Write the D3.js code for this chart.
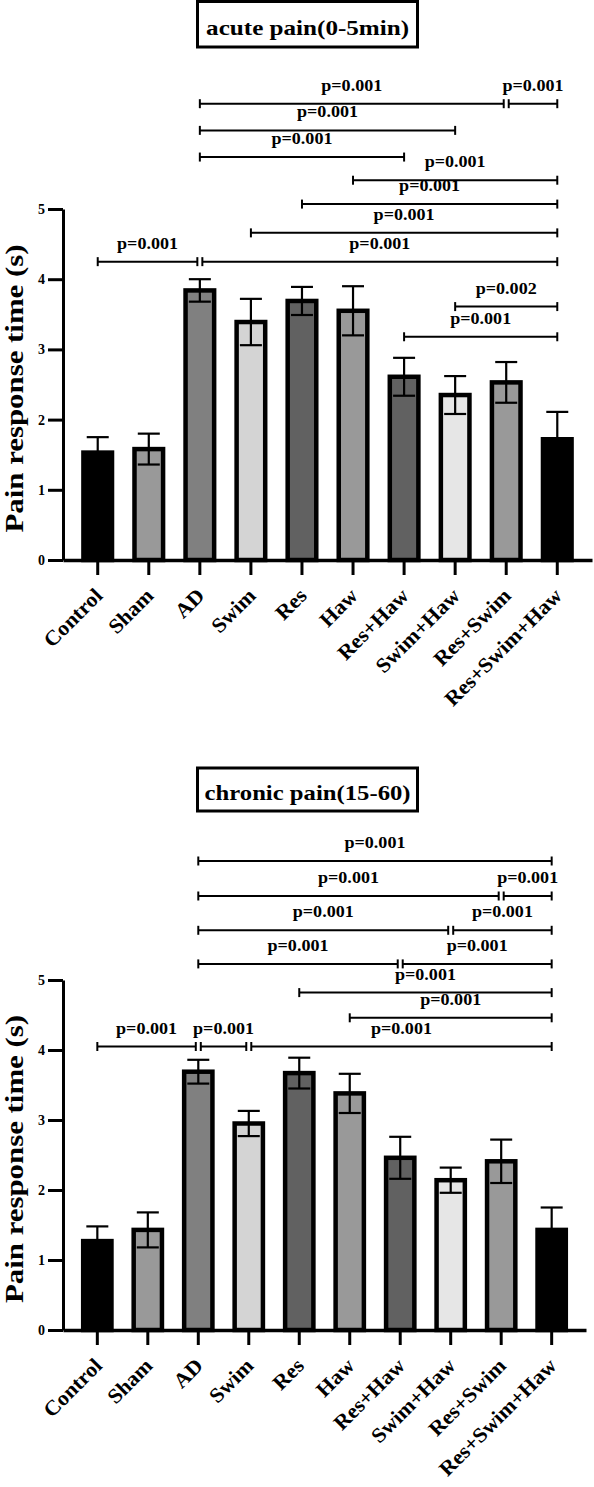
<!DOCTYPE html>
<html>
<head>
<meta charset="utf-8">
<script src="https://cdn.jsdelivr.net/npm/d3@7"></script>
<style>
  body { margin: 0; background: #fff; }
  text { font-family: "Liberation Serif", "Times New Roman", serif; font-weight: bold; fill: #000; }
</style>
</head>
<body>
<div id="chart"></div>
<script>
// groups and bar fills
const groups = ["Control", "Sham", "AD", "Swim", "Res", "Haw", "Res+Haw", "Swim+Haw", "Res+Swim", "Res+Swim+Haw"];
const fills = ["#000000", "#999999", "#808080", "#d4d4d4", "#616161", "#999999", "#616161", "#e6e6e6", "#999999", "#000000"];
const yTicks = [0, 1, 2, 3, 4, 5];

// acute pain (0-5min): mean and SD
const acuteMean = [1.53, 1.58, 3.84, 3.39, 3.69, 3.55, 2.61, 2.35, 2.53, 1.72];
const acuteErr = [0.22, 0.22, 0.16, 0.33, 0.20, 0.35, 0.27, 0.27, 0.29, 0.39];
// brackets: [from group, to group, level (s), label]
const acuteBrackets = [
  [2, 8, 6.50, "p=0.001"], [8, 9, 6.50, "p=0.001"],
  [2, 7, 6.12, "p=0.001"],
  [2, 6, 5.74, "p=0.001"],
  [5, 9, 5.41, "p=0.001"],
  [4, 9, 5.07, "p=0.001"],
  [3, 9, 4.66, "p=0.001"],
  [0, 2, 4.25, "p=0.001"], [2, 9, 4.25, "p=0.001"],
  [7, 9, 3.61, "p=0.002"],
  [6, 9, 3.18, "p=0.001"]
];

// chronic pain (15-60)
const chronicMean = [1.27, 1.43, 3.69, 2.95, 3.67, 3.38, 2.46, 2.14, 2.41, 1.43];
const chronicErr = [0.21, 0.25, 0.17, 0.18, 0.22, 0.28, 0.30, 0.18, 0.31, 0.32];
const chronicBrackets = [
  [2, 9, 6.70, "p=0.001"],
  [2, 8, 6.20, "p=0.001"], [8, 9, 6.20, "p=0.001"],
  [2, 7, 5.71, "p=0.001"], [7, 9, 5.71, "p=0.001"],
  [2, 6, 5.23, "p=0.001"], [6, 9, 5.23, "p=0.001"],
  [4, 9, 4.82, "p=0.001"],
  [5, 9, 4.46, "p=0.001"],
  [0, 2, 4.05, "p=0.001"], [2, 3, 4.05, "p=0.001"], [3, 9, 4.05, "p=0.001"]
];

const W = 594, H = 1487;

const svg = d3.select("#chart").append("svg")
    .attr("width", W).attr("height", H);

// the source font is wider than Times, so stretch texts along their baseline
function fitTo(sel, len) {
  sel.attr("textLength", len).attr("lengthAdjust", "spacingAndGlyphs");
}
function stretch(sel, k) {
  sel.each(function () {
    fitTo(d3.select(this), this.getComputedTextLength() * k);
  });
}

function drawPanel(cfg) {
  const g = svg.append("g");
  const x = d3.scaleBand().domain(groups)
      .range([63, cfg.xEnd]).paddingInner(0.44).paddingOuter(0.4);
  const y = d3.scaleLinear().domain([0, 5]).range([cfg.y0, cfg.y5]);
  const cx = i => x(groups[i]) + x.bandwidth() / 2;

  // title box
  const t = g.append("text")
      .attr("x", 307.6).attr("y", cfg.titleY)
      .attr("text-anchor", "middle")
      .style("font-size", "22px")
      .text(cfg.title);
  fitTo(t, cfg.titleW);
  g.append("rect")
      .attr("x", 197.5).attr("y", cfg.boxY)
      .attr("width", 220).attr("height", cfg.boxH)
      .attr("fill", "none").attr("stroke", "#000").attr("stroke-width", 3);

  // bars
  g.append("g").selectAll("rect")
      .data(cfg.means)
      .join("rect")
      .attr("x", (d, i) => x(groups[i]))
      .attr("width", x.bandwidth())
      .attr("y", d => y(d))
      .attr("height", d => y(0) - y(d))
      .attr("fill", (d, i) => fills[i])
      .attr("stroke", "#000")
      .attr("stroke-width", 4.5);

  // error bars
  const eb = g.append("g").attr("stroke", "#000").attr("stroke-width", 2.2);
  cfg.means.forEach((m, i) => {
    const e = cfg.errs[i];
    eb.append("line").attr("x1", cx(i)).attr("x2", cx(i)).attr("y1", y(m + e)).attr("y2", y(m - e));
    eb.append("line").attr("x1", cx(i) - 11).attr("x2", cx(i) + 11).attr("y1", y(m + e)).attr("y2", y(m + e));
    eb.append("line").attr("x1", cx(i) - 11).attr("x2", cx(i) + 11).attr("y1", y(m - e)).attr("y2", y(m - e));
  });

  // y axis
  const ya = g.append("g")
      .attr("transform", "translate(63,0)")
      .call(d3.axisLeft(y).tickValues(yTicks).tickSize(15).tickSizeOuter(0).tickPadding(3).tickFormat(d3.format("d")));
  ya.select(".domain").attr("stroke-width", 3);
  ya.selectAll(".tick line").attr("stroke-width", 3);
  ya.selectAll(".tick text").style("font-size", "14px").attr("font-family", null);

  // x axis
  const xa = g.append("g")
      .attr("transform", "translate(0," + cfg.y0 + ")")
      .call(d3.axisBottom(x).tickSize(15).tickSizeOuter(0));
  xa.select(".domain").attr("stroke-width", 3.5);
  xa.selectAll(".tick line").attr("stroke-width", 3);
  const xl = xa.selectAll(".tick text")
      .attr("x", 0).attr("y", 0).attr("dy", null)
      .attr("text-anchor", "end")
      .attr("font-family", null)
      .style("font-size", "21px")
      .attr("transform", "translate(6,37) rotate(-45)");
  // scale group labels so that "Control" is about 73px long
  const k = 73 / xl.filter(d => d === "Control").node().getComputedTextLength();
  stretch(xl, k);

  // y label
  const yl = g.append("text")
      .attr("transform", "translate(23," + (y(2.5) + 4) + ") rotate(-90)")
      .attr("text-anchor", "middle")
      .style("font-size", "26px")
      .text("Pain response time (s)");
  fitTo(yl, 288);

  // significance brackets
  const bg = g.append("g");
  cfg.brackets.forEach(b => {
    const [a, c, lvl, lab] = b;
    const sharedStart = cfg.brackets.some(o => o !== b && o[2] === lvl && o[1] === a);
    const sharedEnd = cfg.brackets.some(o => o !== b && o[2] === lvl && o[0] === c);
    const x1 = cx(a) + (sharedStart ? 2.5 : 0);
    const x2 = cx(c) - (sharedEnd ? 2.5 : 0);
    const yy = y(lvl);
    bg.append("line").attr("x1", x1).attr("x2", x2).attr("y1", yy).attr("y2", yy)
        .attr("stroke", "#000").attr("stroke-width", 2);
    [x1, x2].forEach(xx => {
      bg.append("line").attr("x1", xx).attr("x2", xx).attr("y1", yy - 4.5).attr("y2", yy + 4.5)
          .attr("stroke", "#000").attr("stroke-width", 2);
    });
    const tx = bg.append("text")
        .attr("x", (x1 + x2) / 2).attr("y", yy - 13)
        .attr("text-anchor", "middle")
        .style("font-size", "16px")
        .text(lab);
    fitTo(tx, 61);
  });
}

drawPanel({
  title: "acute pain(0-5min)", titleW: 203, titleY: 35, boxY: 1.5, boxH: 45.5,
  means: acuteMean, errs: acuteErr, brackets: acuteBrackets,
  xEnd: 592, y0: 560, y5: 209
});

drawPanel({
  title: "chronic pain(15-60)", titleW: 206, titleY: 800, boxY: 768, boxH: 43,
  means: chronicMean, errs: chronicErr, brackets: chronicBrackets,
  xEnd: 586, y0: 1330, y5: 980
});
</script>
</body>
</html>
